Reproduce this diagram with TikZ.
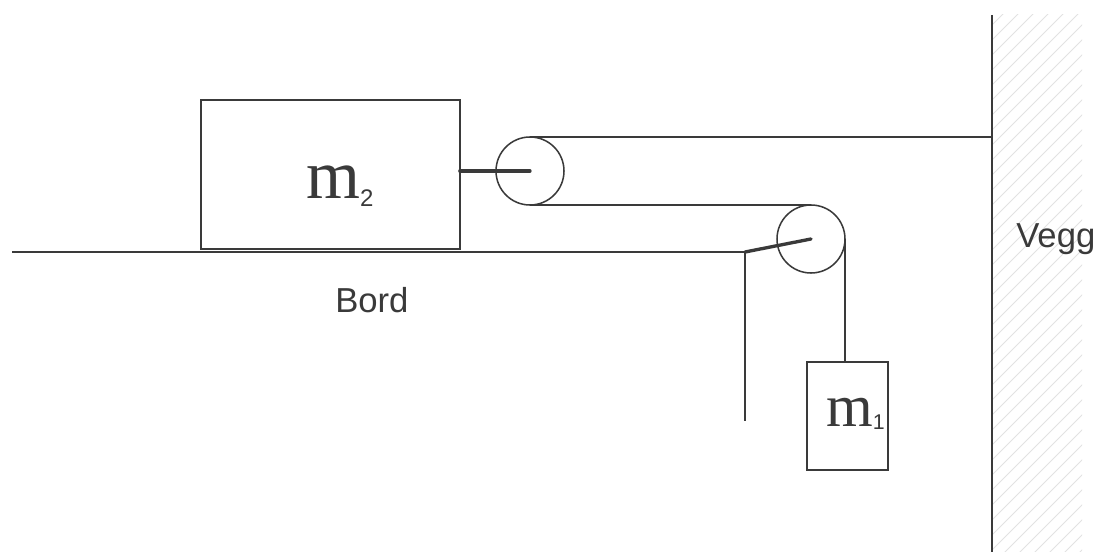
\documentclass[tikz,border=0pt]{standalone}
\usepackage{fontspec}
\setmainfont{Liberation Sans}
\newfontfamily\timesf{Liberation Serif}
\definecolor{ink}{HTML}{3A3A3A}
\definecolor{hatch}{HTML}{E2E2E2}
\tikzset{
  thin line/.style={draw=ink,line width=1.15pt},
  axle/.style={draw=ink,line width=2.5pt,line cap=round},
  mass/.style={thin line,rectangle,inner sep=0pt,outer sep=0pt},
  pulley/.style={thin line,circle,inner sep=0pt,outer sep=0pt,minimum size=51pt},
  caption/.style={text=ink,font=\fontsize{26}{28}\selectfont,inner sep=0pt},
}
\begin{document}
\begin{tikzpicture}[x=0.75pt,y=-0.75pt]
\useasboundingbox (0,0) rectangle (1097,552);
% hatching of the wall
\begin{scope}
\clip (992,15) rectangle (1082,552);
\foreach \k in {0,...,44}{
  \draw[hatch,line width=0.6pt] (985,{32+15*\k}) -- ++(110,-110);
}
\end{scope}
\coordinate (walltop) at (992,15);
\coordinate (wallbot) at (992,552);
\coordinate (wallhit) at (992,137);
\coordinate (tableL) at (12,252);
\coordinate (corner) at (745,252);
\coordinate (standend) at (745,421);
\node[mass,minimum width=194pt,minimum height=112pt] (m2) at (330.5,174.5) {};
\node[mass,minimum width=60.5pt,minimum height=81pt] (m1) at (847.5,416) {};
\node[pulley] (p1) at (530,171) {};
\node[pulley] (p2) at (811,239) {};
\draw[thin line,line width=1.5pt] (walltop) -- (wallbot);
\draw[thin line] (tableL) -- (corner) -- (standend);
\draw[thin line] (p1.north) -- (p1.north -| wallhit);
\draw[thin line] (p1.south) -- (p1.south -| p2.north);
\draw[thin line] (p2.east) -- (p2.east |- m1.north);
\draw[axle] (m2.east |- p1.center) -- (p1.center);
\draw[axle] (corner) -- (p2.center);
\node[text=ink,inner sep=0pt,anchor=base west] (t2) at (306,198.5) {\timesf\fontsize{52}{54}\selectfont m\raisebox{-6pt}{\fontsize{18}{20}\selectfont\rmfamily 2}};
\node[text=ink,inner sep=0pt,anchor=base west] (t1) at (826,426.5) {\timesf\fontsize{45}{47}\selectfont m\raisebox{-2.2pt}{\fontsize{16}{18}\selectfont\rmfamily 1}};
\node[caption,anchor=base west] (bord) at (335,312.5) {Bord};
\node[caption,anchor=base west] (vegg) at (1016,248) {Vegg};
\end{tikzpicture}
\end{document}
